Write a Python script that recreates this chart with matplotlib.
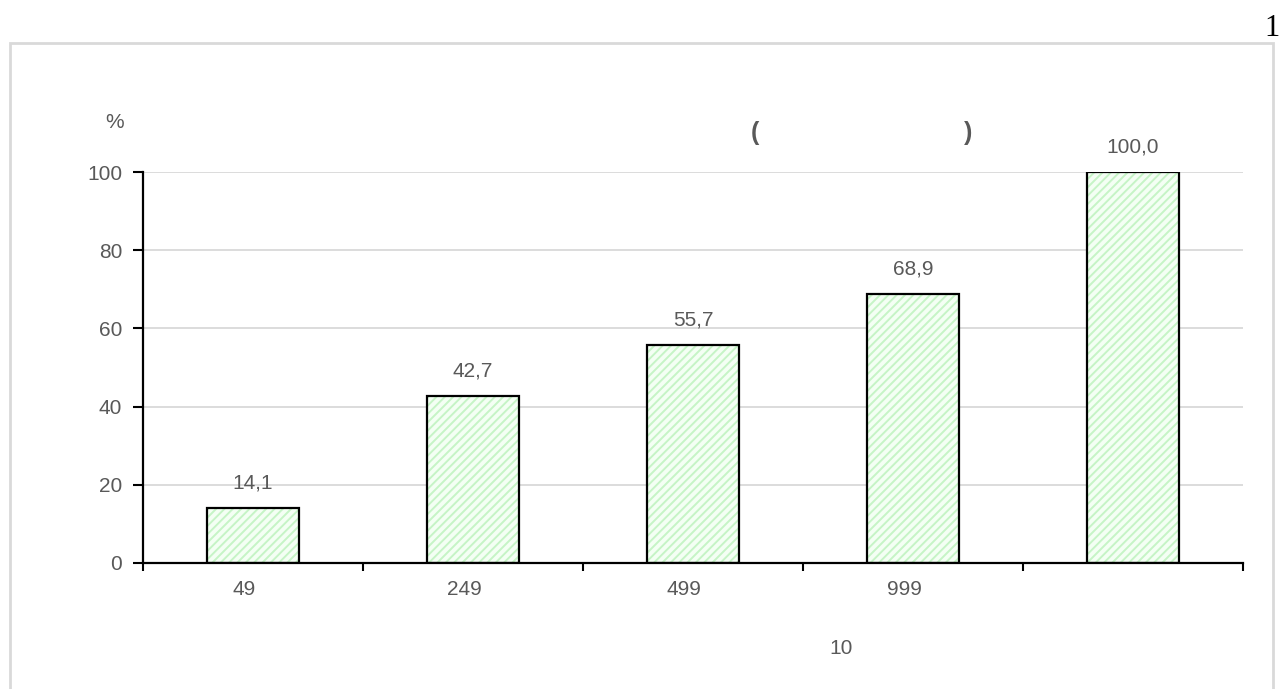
import matplotlib.pyplot as plt
from matplotlib.patches import Rectangle

# # data
categories = ["49", "249", "499", "999", ""]
shares     = [14.1, 42.7, 55.7, 68.9, 100.0]
value_text = ["14,1", "42,7", "55,7", "68,9", "100,0"]
yticks     = [0, 20, 40, 60, 80, 100]

W, H = 1279, 689
GRAY = "#595959"
FS = 15

plt.rcParams["font.family"] = ["Liberation Sans", "DejaVu Sans"]
plt.rcParams["hatch.linewidth"] = 1.4


def fx(px):
  return px / W


def fy(py):
  return 1 - py / H


def main():
  fig = plt.figure(figsize=(W / 100, H / 100), dpi=100)

  # # outer frame
  fig.patches.append(Rectangle((fx(10), fy(700)), fx(1273) - fx(10), fy(43) - fy(700),
                               transform=fig.transFigure, fill=False,
                               edgecolor="#d9d9d9", linewidth=2))

  ax = fig.add_axes([fx(143), fy(563), fx(1243) - fx(143), fy(172) - fy(563)])
  xs = list(range(len(shares)))

  # # hatched fill then black outline
  ax.bar(xs, shares, width=0.42, color="#f4fff4", edgecolor="#c6f4c6",
         hatch="////", linewidth=0, zorder=2)
  ax.bar(xs, shares, width=0.42, color="none", edgecolor="black",
         linewidth=1.6, zorder=3)

  for x, v, t in zip(xs, shares, value_text):
    ax.annotate(t, (x, v), xytext=(0, 11), textcoords="offset points",
                ha="center", va="bottom", fontsize=FS, color=GRAY)

  ax.set_xlim(-0.5, len(shares) - 0.5)
  ax.set_ylim(0, 100)
  ax.set_yticks(yticks)
  ax.yaxis.grid(True, color="#d9d9d9", linewidth=1.3, zorder=0)
  ax.set_axisbelow(True)

  ax.set_xticks([x - 0.04 for x in xs])
  ax.set_xticklabels(categories)
  ax.set_xticks([x - 0.5 for x in range(len(shares) + 1)], minor=True)
  ax.tick_params(axis="x", which="major", length=0, pad=12, labelsize=FS, labelcolor=GRAY)
  ax.tick_params(axis="x", which="minor", length=6, width=1.5, direction="out")
  ax.tick_params(axis="y", length=7, width=1.5, pad=8, labelsize=FS, labelcolor=GRAY)

  for side in ("top", "right"):
    ax.spines[side].set_visible(False)
  for side in ("left", "bottom"):
    ax.spines[side].set_linewidth(1.6)
    ax.spines[side].set_color("black")

  # # texts
  fig.text(fx(115), fy(122), "%", ha="center", va="center", fontsize=FS, color=GRAY)
  fig.text(fx(841), fy(648), "10", ha="center", va="center", fontsize=FS, color=GRAY)
  fig.text(fx(755), fy(133), "(", ha="center", va="center", fontsize=18,
           fontweight="bold", color=GRAY)
  fig.text(fx(968), fy(133), ")", ha="center", va="center", fontsize=18,
           fontweight="bold", color=GRAY)
  fig.text(fx(1272), fy(28), "1", ha="center", va="center", fontsize=22,
           family="Liberation Serif", color="black")

  fig.savefig("out.png", dpi=100)


if __name__ == "__main__":
  main()
